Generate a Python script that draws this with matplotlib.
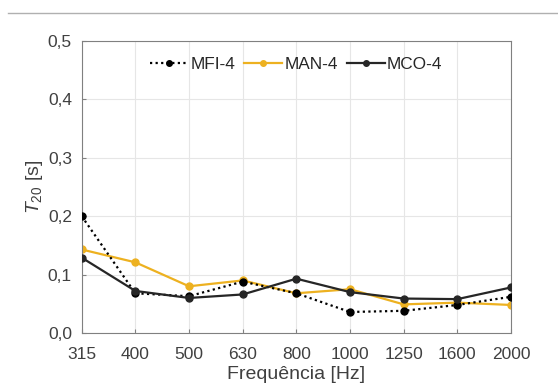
import matplotlib
matplotlib.use("Agg")
import matplotlib.pyplot as plt
from matplotlib.lines import Line2D

freqs = ["315", "400", "500", "630", "800", "1000", "1250", "1600", "2000"]
mfi4 = [0.200, 0.068, 0.063, 0.088, 0.068, 0.036, 0.038, 0.048, 0.062]
man4 = [0.143, 0.121, 0.080, 0.090, 0.068, 0.075, 0.049, 0.052, 0.048]
mco4 = [0.129, 0.072, 0.060, 0.066, 0.093, 0.070, 0.059, 0.058, 0.078]
yticks = [0.0, 0.1, 0.2, 0.3, 0.4, 0.5]
ytick_labels = ["0,0", "0,1", "0,2", "0,3", "0,4", "0,5"]

plt.rcParams['font.family'] = ['Liberation Sans', 'DejaVu Sans']
plt.rcParams['mathtext.fontset'] = 'custom'
plt.rcParams['mathtext.rm'] = 'Liberation Sans'
plt.rcParams['mathtext.it'] = 'Liberation Sans:italic'

fig = plt.figure(figsize=(5.58, 3.88), dpi=100)
ax = fig.add_axes([81.7/558, 1-333/388, (511-81.7)/558, (333-41)/388])

x = list(range(len(freqs)))
ax.plot(x, mfi4, color='black', linestyle=(0, (1, 1.5)), linewidth=1.6,
        marker='o', markersize=5, label='MFI-4', zorder=3)
ax.plot(x, man4, color='#EDB120', linestyle='-', linewidth=1.6,
        marker='o', markersize=5, label='MAN-4', zorder=2)
ax.plot(x, mco4, color='#262626', linestyle='-', linewidth=1.6,
        marker='o', markersize=5, label='MCO-4', zorder=4)

ax.set_xlim(0, len(freqs)-1)
ax.set_ylim(0, 0.5)
ax.set_xticks(x)
ax.set_xticklabels(freqs)
ax.set_yticks(yticks)
ax.set_yticklabels(ytick_labels)
ax.grid(True, color='#e6e6e6', linewidth=0.8)
ax.set_axisbelow(True)
for s in ax.spines.values():
    s.set_color('#808080')
    s.set_linewidth(0.8)
ax.tick_params(axis='x', direction='in', length=3, color='#808080', labelsize=12.5,
               labelcolor='#404040', pad=10)
ax.tick_params(axis='y', direction='in', length=3, color='#808080', labelsize=12.5,
               labelcolor='#404040', pad=7)
ax.set_xlabel('Frequência [Hz]', fontsize=14, color='#404040', labelpad=3)
ax.set_ylabel(r'$T_{20}$ [s]', fontsize=14, color='#404040', labelpad=2)

leg = ax.legend(loc='center', ncol=3, frameon=False, fontsize=12.4,
                bbox_to_anchor=(0.5, 1-(64.5-41)/292), handlelength=2.2,
                columnspacing=0.5, handletextpad=0.15, markerscale=0.8,
                borderpad=0.2)
for t in leg.get_texts():
    t.set_color('#262626')

fig.add_artist(Line2D([8/558, 1.0], [1-13/388, 1-13/388], color='#b0b0b0', linewidth=1.0))

fig.savefig('out.png', dpi=100)
